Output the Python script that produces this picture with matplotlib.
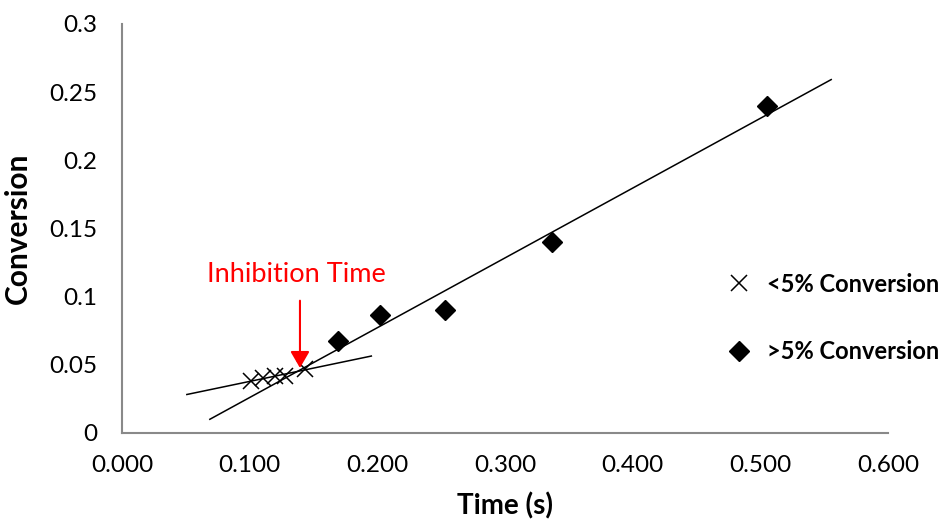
import numpy as np
import matplotlib.pyplot as plt

# data
time_low = [0.1008, 0.1107, 0.1198, 0.1277, 0.1433]
conv_low = [0.0380, 0.0398, 0.0415, 0.0415, 0.0468]

time_high = [0.169, 0.2023, 0.253, 0.3367, 0.5055]
conv_high = [0.0675, 0.0865, 0.0902, 0.140, 0.2397]

x_ticks = [0.0, 0.1, 0.2, 0.3, 0.4, 0.5, 0.6]
y_ticks = [0, 0.05, 0.1, 0.15, 0.2, 0.25, 0.3]
y_tick_labels = ['0', '0.05', '0.1', '0.15', '0.2', '0.25', '0.3']

inhibition_time = 0.1394
inhibition_conv = 0.0474

plt.rcParams['font.family'] = ['Lato', 'DejaVu Sans']

fig = plt.figure(figsize=(9.48, 5.23), dpi=100)
ax = fig.add_axes([122 / 948, 1 - 432.5 / 523, 766 / 948, 408.5 / 523])

# linear trendlines
p_low = np.polyfit(time_low, conv_low, 1)
xr_low = np.array([0.0508, 0.1953])
ax.plot(xr_low, np.polyval(p_low, xr_low), color='black', linewidth=1.1)

p_high = np.polyfit(time_high, conv_high, 1)
xr_high = np.array([0.0688, 0.5555])
ax.plot(xr_high, np.polyval(p_high, xr_high), color='black', linewidth=1.1)

ax.plot(time_low, conv_low, linestyle='none', marker='x', markersize=12,
        markeredgewidth=1.1, color='black', label='<5% Conversion')
ax.plot(time_high, conv_high, linestyle='none', marker='D', markersize=10,
        color='black', label='>5% Conversion')

# inhibition time annotation
ax.annotate('', xy=(inhibition_time, inhibition_conv),
            xytext=(inhibition_time, 0.0968),
            arrowprops=dict(arrowstyle='-|>,head_width=0.58,head_length=1.0',
                            color='red', linewidth=1.5, shrinkA=0, shrinkB=0))
ax.text(0.1362, 0.1157, 'Inhibition Time', color='red', fontsize=19.5,
        ha='center', va='center')

ax.set_xlim(0, 0.6)
ax.set_ylim(0, 0.3)
ax.set_xticks(x_ticks)
ax.set_xticklabels(['%.3f' % v for v in x_ticks])
ax.set_yticks(y_ticks)
ax.set_yticklabels(y_tick_labels)
ax.tick_params(length=0, labelsize=17.5)
ax.tick_params(axis='x', pad=16)
ax.tick_params(axis='y', pad=18)

for side in ['top', 'right']:
    ax.spines[side].set_visible(False)
for side in ['left', 'bottom']:
    ax.spines[side].set_color('#898989')
    ax.spines[side].set_linewidth(1.5)

ax.set_xlabel('Time (s)', fontsize=20, fontweight='bold', labelpad=12)
ax.set_ylabel('Conversion', fontsize=21.5, fontweight='bold', labelpad=12)

fig.legend(loc='center left', bbox_to_anchor=(729 / 948, 1 - 318 / 523),
           frameon=False, prop={'weight': 'bold', 'size': 17},
           handlelength=0.85, handletextpad=0.75, labelspacing=1.9,
           borderpad=0, borderaxespad=0)

fig.savefig('out.png', dpi=100)
